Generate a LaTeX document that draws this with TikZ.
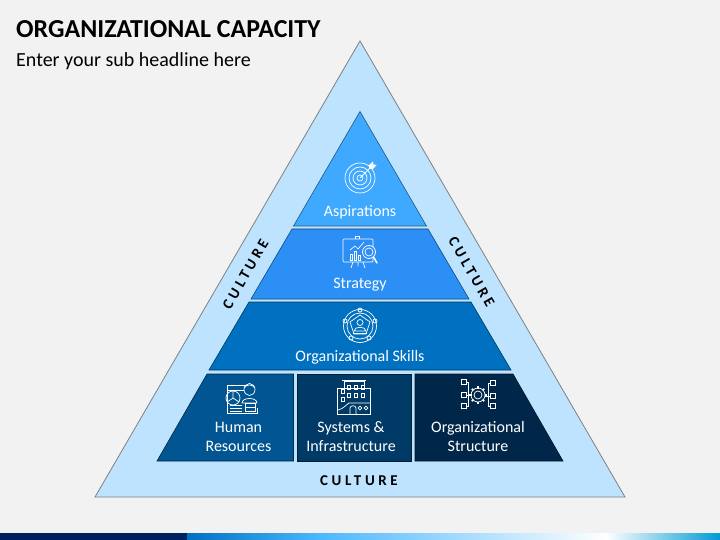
\documentclass[tikz,border=0pt]{standalone}
\usepackage{fontspec}
\setmainfont{Carlito}
\newfontfamily\spaced[LetterSpace=24]{Carlito}
\usepackage{xcolor}
\usetikzlibrary{positioning,calc}
\definecolor{pagebg}{HTML}{F2F2F2}
\definecolor{outerblue}{HTML}{BDE3FF}
\definecolor{aspblue}{HTML}{3FA9FF}
\definecolor{stratblue}{HTML}{2B8FF5}
\definecolor{skillblue}{HTML}{0070C0}
\definecolor{hrblue}{HTML}{005592}
\definecolor{sysblue}{HTML}{003A66}
\definecolor{structblue}{HTML}{00274A}
\definecolor{stripnavy}{HTML}{002060}
\tikzset{
  tier/.style={draw=black!50!#1, line width=.6pt, fill=#1, line join=miter},
  tierlabel/.style={text=white, font=\fontsize{16}{19}\selectfont, align=center, inner sep=0pt},
  culture/.style={font=\spaced\bfseries\fontsize{15}{16}\selectfont, text=black, inner sep=0pt},
  icon/.style={draw=white, line width=.7pt, fill=none},
  iconfill/.style={fill=white, draw=none}
}
\begin{document}
\begin{tikzpicture}[x = 1pt, y = -1pt]
\useasboundingbox (0,0) rectangle (720,540);
\fill[pagebg] (0,0) rectangle (720,540);

% bottom strip
\fill[stripnavy] (0,533) rectangle (187,540);
\shade[left color=skillblue, right color=cyan!60!blue!70!white] (187,533) rectangle (320,540);
\shade[left color=cyan!60!blue!70!white, right color=white] (320,533) rectangle (606,540);
\shade[left color=white, right color=skillblue!70!cyan] (606,533) rectangle (720,540);

% title
\node[anchor=west, inner sep=0pt, font=\bfseries\fontsize{25.9}{30}\selectfont] (title) at (16,29) {ORGANIZATIONAL CAPACITY};
\node[anchor=west, inner sep=0pt, font=\fontsize{20}{24}\selectfont] (sub) at (16,61.5) {Enter your sub headline here};

% pyramid
\draw[draw=black!50, line width=.8pt, fill=outerblue] (360,41) -- (625,497) -- (95,497) -- cycle;
\draw[tier=aspblue] (360,111.5) -- (426.5,226) -- (293.5,226) -- cycle;
\draw[tier=stratblue] (292,229) -- (428,229) -- (469,299) -- (251,299) -- cycle;
\draw[tier=skillblue] (249,302) -- (471,302) -- (511,370) -- (209,370) -- cycle;
\draw[tier=hrblue] (207,374) -- (293.5,374) -- (293.5,461) -- (157,461) -- cycle;
\draw[tier=sysblue] (297,374) -- (411,374) -- (411,461) -- (297,461) -- cycle;
\draw[tier=structblue] (415,374) -- (513,374) -- (563,461) -- (415,461) -- cycle;

% labels
\node[tierlabel] (asp) at (360,212.2) {Aspirations};
\node[tierlabel] (strat) at (360,284.7) {Strategy};
\node[tierlabel] (skill) at (360,357.2) {Organizational Skills};
\node[tierlabel] (hr) at (238.5,436.5) {Human\\Resources};
\node[tierlabel] (sys) at (351,436.5) {Systems \&\\Infrastructure};
\node[tierlabel] (struct) at (478,436.5) {Organizational\\Structure};
\node[culture, rotate=60] (cultl) at (245.5,274) {CULTURE};
\node[culture, rotate=-60] (cultr) at (471.5,272) {CULTURE};
\node[culture] (cultb) at (359,480.5) {CULTURE};

% target icon
\foreach \r in {15,11,7,3} \draw[icon] (360,178) circle[radius=\r];
\draw[icon, line width=.9pt] (360,178) -- (370,168);
\draw[iconfill] (369,169) -- (369,165) -- (373,161.5) -- (373.5,164.5) -- (376.5,165) -- (373,169) -- cycle;

% strategy icon
\draw[icon, rounded corners=1pt] (343,239) rectangle (373,262);
\draw[icon] (355,239) -- (355,236) -- (359,236) -- (359,239);
\draw[icon] (353,262) -- (351,268) (363,262) -- (365,268) (358,262) -- (358,266);
\draw[icon] (350,250) -- (355,246) -- (358,249) -- (364,242);
\foreach \x/\y in {350/254,354/251,358/255} \draw[icon] (\x,\y) rectangle (\x+2.5,260);
\draw[fill=stratblue, draw=white, line width=.8pt] (369,252) circle[radius=6.5];
\draw[icon] (369,252) circle[radius=4];
\draw[draw=white, line width=1.5pt, line cap=round] (373.5,257) -- (377,263);

% skills icon
\draw[icon] (360,326) circle[radius=16.5] circle[radius=13];
\draw[icon] (360,315) -- (370,322) -- (366,334) -- (354,334) -- (350,322) -- cycle;
\foreach \x/\y in {360/310, 375/321, 369/338, 351/338, 345/321} \draw[fill=skillblue, icon] (\x,\y) circle[radius=2];
\draw[icon] (360,322.5) circle[radius=3];
\draw[icon] (354,331) .. controls (354,326) and (366,326) .. (366,331) -- cycle;
\draw[icon] (353,333) -- (367,333);

% human resources icon
\draw[icon] (248,385) -- (227,385) -- (227,413) -- (257,413) -- (257,408);
\draw[icon] (227,390) -- (244,390);
\draw[fill=hrblue, icon] (233,398) circle[radius=7];
\draw[icon] (233,398) -- (233,391) (233,398) -- (227,402) (233,398) -- (239,402);
\draw[fill=hrblue, icon] (249.5,389.5) ellipse[x radius=5.5, y radius=6];
\draw[icon] (244,388) .. controls (246,384) and (253,384) .. (255,388);
\draw[fill=hrblue, icon] (242,403) .. controls (242,397) and (257,397) .. (257,403) -- cycle;
\draw[icon] (230,405) -- (242,405) (230,408) -- (242,408) (230,411) -- (242,411);
\draw[fill=hrblue, icon] (245,403) rectangle (255,407);
\draw[icon] (245,407) rectangle (255,411);

% systems icon
\draw[icon] (337.5,388) rectangle (370.5,414);
\draw[icon] (344,388) -- (344,381) -- (364,381) -- (364,388) (342,380.5) -- (366,380.5);
\foreach \x in {349,356,363} \foreach \y in {387,395} \draw[icon] (\x-1.5,\y-2) rectangle (\x+1.5,\y+2);
\foreach \y in {391,399} \draw[icon] (341,\y-2) rectangle (344,\y+2);
\draw[icon] (338,410) .. controls (343,409) and (346,405) .. (349,403) -- (370,403);
\draw[icon] (350,414) -- (350,408) .. controls (350,405) and (356,405) .. (356,408) -- (356,414);
\foreach \x in {360,366} \draw[icon] (\x,408) circle[radius=1.8];

% structure icon
\draw[icon] (478,395) circle[radius=4];
\foreach \a in {0,45,...,315} \draw[draw=white, line width=1.6pt] ($(478,395)+(\a:6.5)$) -- ($(478,395)+(\a:8.8)$);
\draw[icon] (478,395) circle[radius=7];
\foreach \y in {382,395,406} \draw[icon] (461,\y-2.5) rectangle (466,\y+2.5);
\foreach \y in {383,396,406} \draw[icon] (490,\y-2.5) rectangle (495,\y+2.5);
\draw[icon] (466,382) -- (468,382) -- (468,406) -- (466,406) (466,395) -- (471,395);
\draw[icon] (490,383) -- (488,383) -- (488,406) -- (490,406) (485,396) -- (490,396);
\end{tikzpicture}
\end{document}
